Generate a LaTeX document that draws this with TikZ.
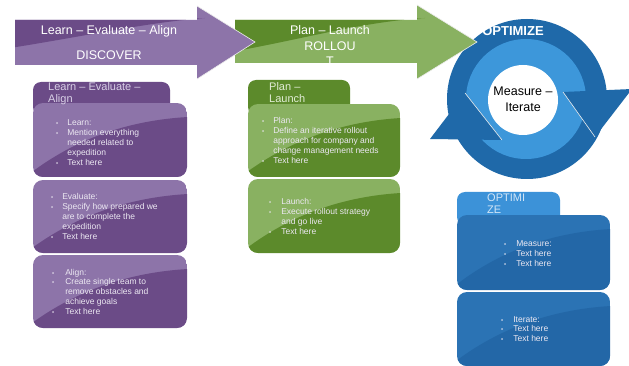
\documentclass[tikz,border=0pt]{standalone}
\usepackage{fontspec}
\setmainfont{Liberation Sans}
\definecolor{pdark}{HTML}{6B4B87}
\definecolor{plight}{HTML}{8D74A9}
\definecolor{gdark}{HTML}{5C8A2B}
\definecolor{glight}{HTML}{89B161}
\definecolor{bdark}{HTML}{2367A7}
\definecolor{blight}{HTML}{2B73B4}
\definecolor{btab}{HTML}{3C92D8}
\definecolor{rdark}{HTML}{1F69A9}
\definecolor{rlight}{HTML}{3D97DA}
\definecolor{ptabtxt}{HTML}{D8CFE6}
\definecolor{gtabtxt}{HTML}{E2EDD6}
\definecolor{btabtxt}{HTML}{D3E6F7}
\definecolor{boxtxt}{HTML}{ECE8F2}
\newcommand\mywbox[6]{%
  \begin{scope}
    \clip[rounded corners=10pt] (#1,#2) rectangle (#3,#4);
    \fill[#5] (#1,#2) rectangle (#3,#4);
    \fill[#6] (#1-1,#4+1) -- (#1-1,#4-5) .. controls (#1+35,#2+42) and (#1+85,#2+18) .. (#3+1,#2+14) -- (#3+1,#4+1) -- cycle;
  \end{scope}}
\newcommand\mybul{{\fontsize{6}{6}\selectfont\textbullet}}
\tikzset{
  arrowtxt/.style={text=white, font=\fontsize{12.5}{15.5}\selectfont, inner sep=0pt},
  tabtxt/.style={font=\fontsize{11}{12}\selectfont, inner sep=0pt, anchor=base west},
  btxt/.style={text=boxtxt, font=\fontsize{8.5}{9.8}\selectfont, inner sep=0pt, anchor=base west},
  tabbox/.style={rounded corners=8pt},
  edgeline/.style={draw=white!85!gray, line width=0.6pt},
}
\begin{document}
\begin{tikzpicture}[x=1pt,y=-1pt]
\useasboundingbox[fill=white] (0,0) rectangle (629,366);

% ---- cycle (OPTIMIZE) ----
\fill[rdark] (527,99) circle[radius=80];
\fill[rlight] (526,99) circle[radius=60];
\fill[white] (523,100) circle[radius=35];
\fill[rdark] (465,93) -- (430,139) -- (502,140) -- cycle;
\draw[edgeline] (465,93) -- (502,140);
\fill[rdark] (563,92) -- (632,89) -- (595,137) -- cycle;
\draw[edgeline] (563,92) -- (595,137);
\node[text=white, font=\bfseries\fontsize{13}{15}\selectfont, inner sep=0pt] (opt) at (513,31) {OPTIMIZE};
\node[font=\fontsize{12.5}{16}\selectfont, inner sep=0pt, anchor=base] (mi) at (523,96)
  {\begin{tabular}[t]{@{}c@{}}Measure –\\Iterate\end{tabular}};

% ---- green arrow ----
\begin{scope}
  \clip (235,20) -- (417,20) -- (417,5) -- (477,42) -- (417,79) -- (417,63) -- (235,63) -- cycle;
  \fill[glight] (230,0) rectangle (480,80);
  \fill[gdark] (230,20) -- (230,52) .. controls (300,40) and (360,22) .. (425,18) -- cycle;
\end{scope}
\draw[edgeline] (417,5) -- (477,42) -- (417,79);

% ---- purple arrow ----
\begin{scope}
  \clip (15,20) -- (197,20) -- (197,6) -- (255,42) -- (197,79) -- (197,65) -- (15,65) -- cycle;
  \fill[plight] (10,0) rectangle (260,80);
  \fill[pdark] (10,20) -- (10,48) .. controls (80,37) and (150,22) .. (205,18) -- cycle;
\end{scope}
\draw[edgeline] (197,6) -- (255,42) -- (197,79);

\node[arrowtxt] (a1) at (109,31) {Learn – Evaluate – Align};
\node[arrowtxt] (a2) at (109,55) {DISCOVER};
\node[arrowtxt, anchor=base] (a3) at (330,35)
  {\begin{tabular}[t]{@{}c@{}}Plan – Launch\\ROLLOU\\T\end{tabular}};

% ---- purple column ----
\fill[pdark, tabbox] (33,82) rectangle (170,115);
\mywbox{33}{103}{187}{177}{plight}{pdark}
\mywbox{33}{180}{187}{253}{plight}{pdark}
\mywbox{33}{255}{187}{328}{plight}{pdark}
\node[tabtxt, text=ptabtxt] (ptab) at (48,91)
  {\begin{tabular}[t]{@{}l@{}}Learn – Evaluate –\\Align\end{tabular}};
\node[btxt] (p1) at (56,126) {\begin{tabular}[t]{@{}l@{\hspace{9pt}}l@{}}
  \mybul & Learn:\\ \mybul & Mention everything\\ & needed related to\\ & expedition\\ \mybul & Text here\end{tabular}};
\node[btxt] (p2) at (51,200) {\begin{tabular}[t]{@{}l@{\hspace{9pt}}l@{}}
  \mybul & Evaluate:\\ \mybul & Specify how prepared we\\ & are to complete the\\ & expedition\\ \mybul & Text here\end{tabular}};
\node[btxt] (p3) at (52,275) {\begin{tabular}[t]{@{}l@{\hspace{11pt}}l@{}}
  \mybul & Align:\\ \mybul & Create single team to\\ & remove obstacles and\\ & achieve goals\\ \mybul & Text here\end{tabular}};

% ---- green column ----
\fill[gdark, tabbox] (248,80) rectangle (350,115);
\mywbox{248}{104}{400}{177}{glight}{gdark}
\mywbox{248}{179}{400}{253}{glight}{gdark}
\node[tabtxt, text=gtabtxt] (gtab) at (269,91)
  {\begin{tabular}[t]{@{}l@{}}Plan –\\Launch\end{tabular}};
\node[btxt] (g1) at (262,124) {\begin{tabular}[t]{@{}l@{\hspace{9pt}}l@{}}
  \mybul & Plan:\\ \mybul & Define an iterative rollout\\ & approach for company and\\ & change management needs\\ \mybul & Text here\end{tabular}};
\node[btxt] (g2) at (269,205) {\begin{tabular}[t]{@{}l@{\hspace{10pt}}l@{}}
  \mybul & Launch:\\ \mybul & Execute rollout strategy\\ & and go live\\ \mybul & Text here\end{tabular}};

% ---- blue column ----
\fill[btab, tabbox] (457,192) rectangle (560,225);
\mywbox{457}{215}{610}{290}{blight}{bdark}
\mywbox{457}{292}{610}{366}{blight}{bdark}
\node[tabtxt, text=btabtxt] (btb) at (487,202)
  {\begin{tabular}[t]{@{}l@{}}OPTIMI\\ZE\end{tabular}};
\node[btxt] (bl1) at (504,247) {\begin{tabular}[t]{@{}l@{\hspace{10pt}}l@{}}
  \mybul & Measure:\\ \mybul & Text here\\ \mybul & Text here\end{tabular}};
\node[btxt] (bl2) at (501,322) {\begin{tabular}[t]{@{}l@{\hspace{10pt}}l@{}}
  \mybul & Iterate:\\ \mybul & Text here\\ \mybul & Text here\end{tabular}};
\end{tikzpicture}
\end{document}
